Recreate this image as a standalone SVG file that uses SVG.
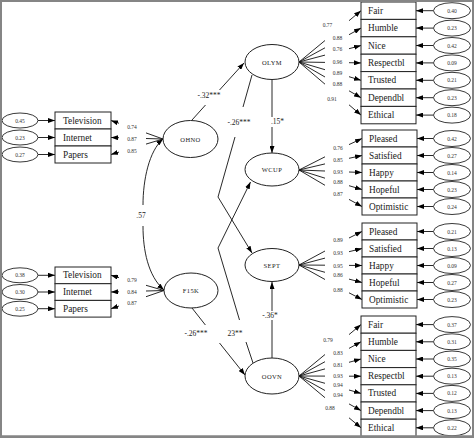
<svg xmlns="http://www.w3.org/2000/svg" width="474" height="438" viewBox="0 0 474 438">
<style>
.bg{fill:#fff}
.box{fill:#fff;stroke:#222;stroke-width:1}
.lat{fill:#fff;stroke:#222;stroke-width:1}
.err{fill:#fff;stroke:#222;stroke-width:0.9}
.ln{fill:none;stroke:#111;stroke-width:0.9}
.t{font-family:"Liberation Serif",serif;font-size:9.3px;fill:#1a1a1a;dominant-baseline:central}
.lv{font-family:"Liberation Serif",serif;font-size:6.5px;fill:#222;letter-spacing:0.4px;text-anchor:middle;dominant-baseline:central}
.n{font-family:"Liberation Serif",serif;font-size:5.5px;fill:#333;text-anchor:middle;dominant-baseline:central}
.p{font-family:"Liberation Serif",serif;font-size:7.5px;fill:#222;text-anchor:middle;dominant-baseline:central}
</style>
<defs>
<marker id="ah" viewBox="0 0 7 5" refX="7" refY="2.5" markerWidth="7" markerHeight="5" markerUnits="userSpaceOnUse" orient="auto-start-reverse"><path d="M0,0 L7,2.5 L0,5 z" fill="#000"/></marker>
</defs>
<rect class="bg" x="0" y="0" width="474" height="438"/>

<g id="connectors">
<path class="ln" marker-end="url(#ah)" d="M192,120 L205.5,105 M219.5,90 L244,63"/>
<path class="ln" marker-end="url(#ah)" d="M272,80 L272,117 M272,127 L272,153"/>
<path class="ln" marker-end="url(#ah)" d="M252,75 L243,107 M235,137 L218,197 L252,253"/>
<path class="ln" marker-end="url(#ah)" d="M253,363 L246,342 M239.5,320 L218,248 L250.5,182"/>
<path class="ln" marker-end="url(#ah)" d="M272,358 L272,320 M272,311 L272,282"/>
<path class="ln" marker-end="url(#ah)" d="M192,308 L205.4,325 M219.5,343 L245,375"/>
<path class="ln" marker-start="url(#ah)" marker-end="url(#ah)" d="M163,139 C149,151 143,180 143,205 M143,226 C143,250 148,276 164,290"/>
<path class="ln" marker-end="url(#ah)" d="M163,139 L146,132.9 M119,123.3 L111,120.5"/>
<path class="ln" marker-end="url(#ah)" d="M163,139 L146,138.5 M119,137.7 L111,137.5"/>
<path class="ln" marker-end="url(#ah)" d="M163,139 L146,144.1 M119,152.1 L111,154.5"/>
<path class="ln" marker-end="url(#ah)" d="M164,290.5 L146,285.3 M119,277.6 L111,275.3"/>
<path class="ln" marker-end="url(#ah)" d="M164,290.5 L146,291 M119,291.8 L111,292"/>
<path class="ln" marker-end="url(#ah)" d="M164,290.5 L146,296.7 M119,306 L111,308.7"/>
<path class="ln" marker-end="url(#ah)" d="M299,62 L325,40.5 M349,20.7 L361,10.7"/>
<path class="ln" marker-end="url(#ah)" d="M299,62 L325,47.8 M349,34.7 L361,28.1"/>
<path class="ln" marker-end="url(#ah)" d="M299,62 L325,55.1 M349,48.7 L361,45.5"/>
<path class="ln" marker-end="url(#ah)" d="M299,62 L325,62.4 M349,62.7 L361,62.9"/>
<path class="ln" marker-end="url(#ah)" d="M299,62 L325,69.7 M349,76.7 L361,80.3"/>
<path class="ln" marker-end="url(#ah)" d="M299,62 L325,77 M349,90.8 L361,97.7"/>
<path class="ln" marker-end="url(#ah)" d="M299,62 L325,84.2 M349,104.8 L361,115.1"/>
<path class="ln" marker-end="url(#ah)" d="M299,170 L325,156.8 M349,144.6 L362,138.5"/>
<path class="ln" marker-end="url(#ah)" d="M299,170 L325,163.9 M349,158.3 L362,155.5"/>
<path class="ln" marker-end="url(#ah)" d="M299,170 L325,171 M349,172 L362,172.5"/>
<path class="ln" marker-end="url(#ah)" d="M299,170 L325,178.2 M349,185.7 L362,189.5"/>
<path class="ln" marker-end="url(#ah)" d="M299,170 L325,185.3 M349,199.4 L362,206.5"/>
<path class="ln" marker-end="url(#ah)" d="M299,265 L325,251 M349,238 L362,231.5"/>
<path class="ln" marker-end="url(#ah)" d="M299,265 L325,258.1 M349,251.7 L362,248.5"/>
<path class="ln" marker-end="url(#ah)" d="M299,265 L325,265.2 M349,265.4 L362,265.5"/>
<path class="ln" marker-end="url(#ah)" d="M299,265 L325,272.3 M349,279.1 L362,282.5"/>
<path class="ln" marker-end="url(#ah)" d="M299,265 L325,279.5 M349,292.8 L362,299.5"/>
<path class="ln" marker-end="url(#ah)" d="M299,376 L325,354.5 M349,334.6 L361,324.6"/>
<path class="ln" marker-end="url(#ah)" d="M299,376 L325,361.7 M349,348.4 L361,341.8"/>
<path class="ln" marker-end="url(#ah)" d="M299,376 L325,368.9 M349,362.3 L361,359"/>
<path class="ln" marker-end="url(#ah)" d="M299,376 L325,376.1 M349,376.2 L361,376.2"/>
<path class="ln" marker-end="url(#ah)" d="M299,376 L325,383.3 M349,390 L361,393.4"/>
<path class="ln" marker-end="url(#ah)" d="M299,376 L325,390.5 M349,403.9 L361,410.6"/>
<path class="ln" marker-end="url(#ah)" d="M299,376 L325,397.7 M349,417.8 L361,427.8"/>
<path class="ln" marker-end="url(#ah)" d="M38,120.5 L55,120.5"/>
<path class="ln" marker-end="url(#ah)" d="M38,137.5 L55,137.5"/>
<path class="ln" marker-end="url(#ah)" d="M38,154.5 L55,154.5"/>
<path class="ln" marker-end="url(#ah)" d="M38,275.3 L55,275.3"/>
<path class="ln" marker-end="url(#ah)" d="M38,292 L55,292"/>
<path class="ln" marker-end="url(#ah)" d="M38,308.7 L55,308.7"/>
<path class="ln" marker-end="url(#ah)" d="M433.5,10.7 L416,10.7"/>
<path class="ln" marker-end="url(#ah)" d="M433.5,28.1 L416,28.1"/>
<path class="ln" marker-end="url(#ah)" d="M433.5,45.5 L416,45.5"/>
<path class="ln" marker-end="url(#ah)" d="M433.5,62.9 L416,62.9"/>
<path class="ln" marker-end="url(#ah)" d="M433.5,80.3 L416,80.3"/>
<path class="ln" marker-end="url(#ah)" d="M433.5,97.7 L416,97.7"/>
<path class="ln" marker-end="url(#ah)" d="M433.5,115.1 L416,115.1"/>
<path class="ln" marker-end="url(#ah)" d="M433.5,138.5 L417,138.5"/>
<path class="ln" marker-end="url(#ah)" d="M433.5,155.5 L417,155.5"/>
<path class="ln" marker-end="url(#ah)" d="M433.5,172.5 L417,172.5"/>
<path class="ln" marker-end="url(#ah)" d="M433.5,189.5 L417,189.5"/>
<path class="ln" marker-end="url(#ah)" d="M433.5,206.5 L417,206.5"/>
<path class="ln" marker-end="url(#ah)" d="M433.5,231.5 L417,231.5"/>
<path class="ln" marker-end="url(#ah)" d="M433.5,248.5 L417,248.5"/>
<path class="ln" marker-end="url(#ah)" d="M433.5,265.5 L417,265.5"/>
<path class="ln" marker-end="url(#ah)" d="M433.5,282.5 L417,282.5"/>
<path class="ln" marker-end="url(#ah)" d="M433.5,299.5 L417,299.5"/>
<path class="ln" marker-end="url(#ah)" d="M433.5,324.6 L416,324.6"/>
<path class="ln" marker-end="url(#ah)" d="M433.5,341.8 L416,341.8"/>
<path class="ln" marker-end="url(#ah)" d="M433.5,359 L416,359"/>
<path class="ln" marker-end="url(#ah)" d="M433.5,376.2 L416,376.2"/>
<path class="ln" marker-end="url(#ah)" d="M433.5,393.4 L416,393.4"/>
<path class="ln" marker-end="url(#ah)" d="M433.5,410.6 L416,410.6"/>
<path class="ln" marker-end="url(#ah)" d="M433.5,427.8 L416,427.8"/>
</g>

<g id="path-labels">
<text class="p" x="209" y="95">-.32***</text>
<text class="p" x="277.5" y="121.5">.15*</text>
<text class="p" x="239" y="122">-.26***</text>
<text class="p" x="141" y="215.5">.57</text>
<text class="p" x="270" y="315.5">-.36*</text>
<text class="p" x="196" y="333">-.26***</text>
<text class="p" x="235" y="333">23**</text>
</g>

<g id="loadings">
<text class="n" x="132" y="127">0.74</text>
<text class="n" x="132" y="139">0.87</text>
<text class="n" x="132" y="151">0.85</text>
<text class="n" x="132" y="280">0.79</text>
<text class="n" x="132" y="292">0.84</text>
<text class="n" x="132" y="303">0.87</text>
<text class="n" x="327.5" y="25">0.77</text>
<text class="n" x="337.5" y="37.7">0.88</text>
<text class="n" x="337.5" y="49.3">0.76</text>
<text class="n" x="337.5" y="61.7">0.96</text>
<text class="n" x="337.5" y="73.3">0.89</text>
<text class="n" x="337.5" y="84">0.88</text>
<text class="n" x="332" y="99">0.91</text>
<text class="n" x="338" y="147.7">0.76</text>
<text class="n" x="338" y="160">0.85</text>
<text class="n" x="338" y="171.7">0.93</text>
<text class="n" x="338" y="181.7">0.88</text>
<text class="n" x="338" y="194">0.87</text>
<text class="n" x="338" y="240">0.89</text>
<text class="n" x="338" y="253.3">0.93</text>
<text class="n" x="338" y="265.7">0.95</text>
<text class="n" x="338" y="275">0.86</text>
<text class="n" x="338" y="290">0.88</text>
<text class="n" x="328" y="340">0.79</text>
<text class="n" x="338" y="352.7">0.83</text>
<text class="n" x="338" y="365">0.81</text>
<text class="n" x="338" y="376">0.93</text>
<text class="n" x="338" y="385.3">0.94</text>
<text class="n" x="338" y="395">0.94</text>
<text class="n" x="330" y="408.3">0.88</text>
</g>

<g id="OLYM"><ellipse class="lat" cx="272" cy="62" rx="27" ry="17.5"/><text class="lv" x="272" y="62">OLYM</text></g>
<g id="OHNO"><ellipse class="lat" cx="190.5" cy="139" rx="27.5" ry="18.5"/><text class="lv" x="190.5" y="139">OHNO</text></g>
<g id="WCUP"><ellipse class="lat" cx="272" cy="169.5" rx="27" ry="16.5"/><text class="lv" x="272" y="169.5">WCUP</text></g>
<g id="SEPT"><ellipse class="lat" cx="272" cy="265" rx="27" ry="16.5"/><text class="lv" x="272" y="265">SEPT</text></g>
<g id="F15K"><ellipse class="lat" cx="191" cy="290.5" rx="27" ry="17.5"/><text class="lv" x="191" y="290.5">F15K</text></g>
<g id="OOVN"><ellipse class="lat" cx="272" cy="376" rx="27" ry="18"/><text class="lv" x="272" y="376">OOVN</text></g>

<g id="OHNO-indicators">
<rect class="box" x="55" y="112" width="56" height="17"/><text class="t" x="63" y="120.5">Television</text>
<rect class="box" x="55" y="129" width="56" height="17"/><text class="t" x="63" y="137.5">Internet</text>
<rect class="box" x="55" y="146" width="56" height="17"/><text class="t" x="63" y="154.5">Papers</text>
<ellipse class="err" cx="20" cy="120.5" rx="18" ry="7.5"/><text class="n" x="20" y="120.5">0.45</text>
<ellipse class="err" cx="20" cy="137.5" rx="18" ry="7.5"/><text class="n" x="20" y="137.5">0.23</text>
<ellipse class="err" cx="20" cy="154.5" rx="18" ry="7.5"/><text class="n" x="20" y="154.5">0.27</text>
</g>
<g id="F15K-indicators">
<rect class="box" x="55" y="267" width="56" height="16.7"/><text class="t" x="63" y="275.3">Television</text>
<rect class="box" x="55" y="283.7" width="56" height="16.7"/><text class="t" x="63" y="292">Internet</text>
<rect class="box" x="55" y="300.4" width="56" height="16.7"/><text class="t" x="63" y="308.7">Papers</text>
<ellipse class="err" cx="20" cy="275.3" rx="18" ry="7.5"/><text class="n" x="20" y="275.3">0.38</text>
<ellipse class="err" cx="20" cy="292" rx="18" ry="7.5"/><text class="n" x="20" y="292">0.30</text>
<ellipse class="err" cx="20" cy="308.7" rx="18" ry="7.5"/><text class="n" x="20" y="308.7">0.25</text>
</g>
<g id="OLYM-indicators">
<rect class="box" x="361" y="2" width="55" height="17.4"/><text class="t" x="368" y="10.7">Fair</text>
<rect class="box" x="361" y="19.4" width="55" height="17.4"/><text class="t" x="368" y="28.1">Humble</text>
<rect class="box" x="361" y="36.8" width="55" height="17.4"/><text class="t" x="368" y="45.5">Nice</text>
<rect class="box" x="361" y="54.2" width="55" height="17.4"/><text class="t" x="368" y="62.9">Respectbl</text>
<rect class="box" x="361" y="71.6" width="55" height="17.4"/><text class="t" x="368" y="80.3">Trusted</text>
<rect class="box" x="361" y="89" width="55" height="17.4"/><text class="t" x="368" y="97.7">Dependbl</text>
<rect class="box" x="361" y="106.4" width="55" height="17.4"/><text class="t" x="368" y="115.1">Ethical</text>
<ellipse class="err" cx="452" cy="10.7" rx="18.5" ry="8"/><text class="n" x="452" y="10.7">0.40</text>
<ellipse class="err" cx="452" cy="28.1" rx="18.5" ry="8"/><text class="n" x="452" y="28.1">0.23</text>
<ellipse class="err" cx="452" cy="45.5" rx="18.5" ry="8"/><text class="n" x="452" y="45.5">0.42</text>
<ellipse class="err" cx="452" cy="62.9" rx="18.5" ry="8"/><text class="n" x="452" y="62.9">0.09</text>
<ellipse class="err" cx="452" cy="80.3" rx="18.5" ry="8"/><text class="n" x="452" y="80.3">0.21</text>
<ellipse class="err" cx="452" cy="97.7" rx="18.5" ry="8"/><text class="n" x="452" y="97.7">0.23</text>
<ellipse class="err" cx="452" cy="115.1" rx="18.5" ry="8"/><text class="n" x="452" y="115.1">0.18</text>
</g>
<g id="WCUP-indicators">
<rect class="box" x="362" y="130" width="55" height="17"/><text class="t" x="369" y="138.5">Pleased</text>
<rect class="box" x="362" y="147" width="55" height="17"/><text class="t" x="369" y="155.5">Satisfied</text>
<rect class="box" x="362" y="164" width="55" height="17"/><text class="t" x="369" y="172.5">Happy</text>
<rect class="box" x="362" y="181" width="55" height="17"/><text class="t" x="369" y="189.5">Hopeful</text>
<rect class="box" x="362" y="198" width="55" height="17"/><text class="t" x="369" y="206.5">Optimistic</text>
<ellipse class="err" cx="452" cy="138.5" rx="18.5" ry="8"/><text class="n" x="452" y="138.5">0.42</text>
<ellipse class="err" cx="452" cy="155.5" rx="18.5" ry="8"/><text class="n" x="452" y="155.5">0.27</text>
<ellipse class="err" cx="452" cy="172.5" rx="18.5" ry="8"/><text class="n" x="452" y="172.5">0.14</text>
<ellipse class="err" cx="452" cy="189.5" rx="18.5" ry="8"/><text class="n" x="452" y="189.5">0.23</text>
<ellipse class="err" cx="452" cy="206.5" rx="18.5" ry="8"/><text class="n" x="452" y="206.5">0.24</text>
</g>
<g id="SEPT-indicators">
<rect class="box" x="362" y="223" width="55" height="17"/><text class="t" x="369" y="231.5">Pleased</text>
<rect class="box" x="362" y="240" width="55" height="17"/><text class="t" x="369" y="248.5">Satisfied</text>
<rect class="box" x="362" y="257" width="55" height="17"/><text class="t" x="369" y="265.5">Happy</text>
<rect class="box" x="362" y="274" width="55" height="17"/><text class="t" x="369" y="282.5">Hopeful</text>
<rect class="box" x="362" y="291" width="55" height="17"/><text class="t" x="369" y="299.5">Optimistic</text>
<ellipse class="err" cx="452" cy="231.5" rx="18.5" ry="8"/><text class="n" x="452" y="231.5">0.21</text>
<ellipse class="err" cx="452" cy="248.5" rx="18.5" ry="8"/><text class="n" x="452" y="248.5">0.13</text>
<ellipse class="err" cx="452" cy="265.5" rx="18.5" ry="8"/><text class="n" x="452" y="265.5">0.09</text>
<ellipse class="err" cx="452" cy="282.5" rx="18.5" ry="8"/><text class="n" x="452" y="282.5">0.27</text>
<ellipse class="err" cx="452" cy="299.5" rx="18.5" ry="8"/><text class="n" x="452" y="299.5">0.23</text>
</g>
<g id="OOVN-indicators">
<rect class="box" x="361" y="316" width="55" height="17.2"/><text class="t" x="368" y="324.6">Fair</text>
<rect class="box" x="361" y="333.2" width="55" height="17.2"/><text class="t" x="368" y="341.8">Humble</text>
<rect class="box" x="361" y="350.4" width="55" height="17.2"/><text class="t" x="368" y="359">Nice</text>
<rect class="box" x="361" y="367.6" width="55" height="17.2"/><text class="t" x="368" y="376.2">Respectbl</text>
<rect class="box" x="361" y="384.8" width="55" height="17.2"/><text class="t" x="368" y="393.4">Trusted</text>
<rect class="box" x="361" y="402" width="55" height="17.2"/><text class="t" x="368" y="410.6">Dependbl</text>
<rect class="box" x="361" y="419.2" width="55" height="17.2"/><text class="t" x="368" y="427.8">Ethical</text>
<ellipse class="err" cx="452" cy="324.6" rx="18.5" ry="8"/><text class="n" x="452" y="324.6">0.37</text>
<ellipse class="err" cx="452" cy="341.8" rx="18.5" ry="8"/><text class="n" x="452" y="341.8">0.31</text>
<ellipse class="err" cx="452" cy="359" rx="18.5" ry="8"/><text class="n" x="452" y="359">0.35</text>
<ellipse class="err" cx="452" cy="376.2" rx="18.5" ry="8"/><text class="n" x="452" y="376.2">0.13</text>
<ellipse class="err" cx="452" cy="393.4" rx="18.5" ry="8"/><text class="n" x="452" y="393.4">0.12</text>
<ellipse class="err" cx="452" cy="410.6" rx="18.5" ry="8"/><text class="n" x="452" y="410.6">0.13</text>
<ellipse class="err" cx="452" cy="427.8" rx="18.5" ry="8"/><text class="n" x="452" y="427.8">0.22</text>
</g>

<rect x="1" y="1" width="472" height="435.5" fill="none" stroke="#858585" stroke-width="2"/>
<rect x="0" y="435.5" width="474" height="2.5" fill="#858585"/>
</svg>
